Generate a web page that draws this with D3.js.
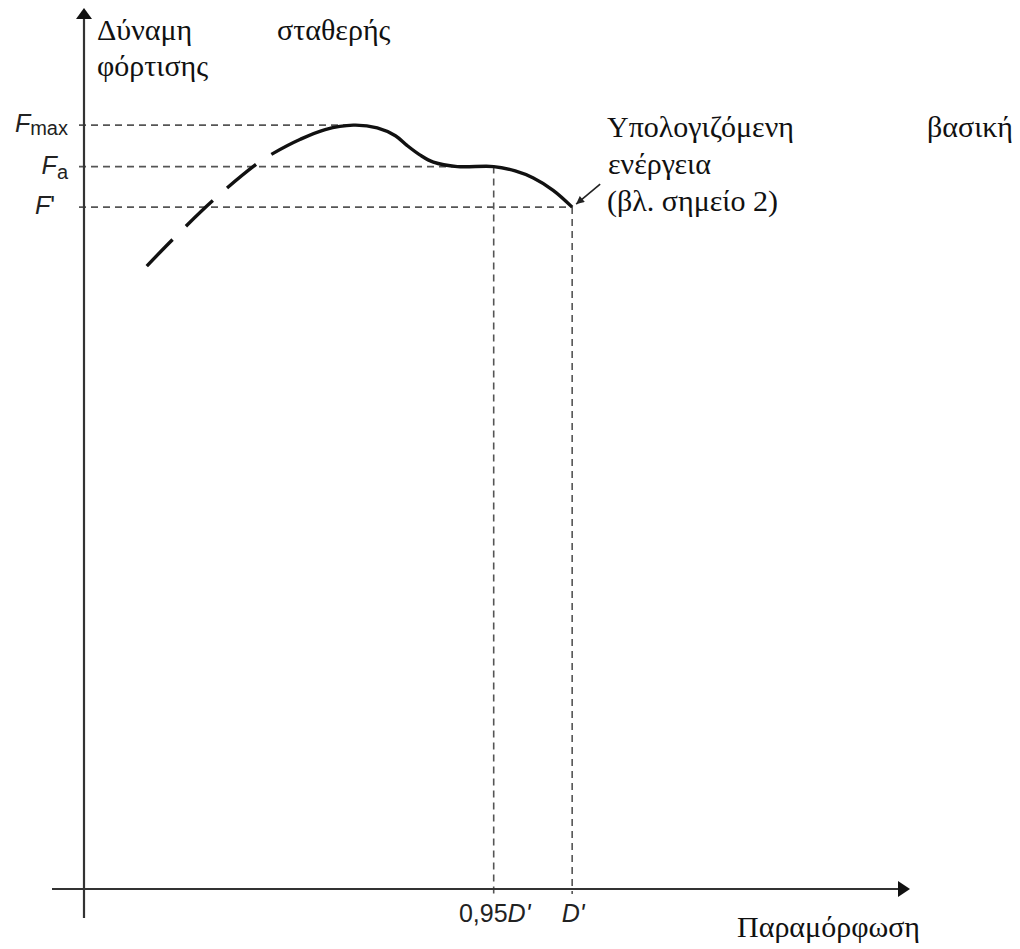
<!DOCTYPE html>
<html>
<head>
<meta charset="utf-8">
<script src="https://cdn.jsdelivr.net/npm/d3@7"></script>
<style>
  html, body { margin: 0; padding: 0; background: #fff; }
  #chart { width: 1020px; height: 949px; }
</style>
</head>
<body>
<div id="chart"></div>
<script>
// schematic units: both axes run 0..100
const curveX = [7.6, 10.7, 15.9, 21.2, 22.9, 26.2, 29.2, 32.6, 35.5, 37.7, 39.1, 40.7, 42.3, 45.2, 49.6, 52.2, 54.4, 56.8, 59.1];
const curveY = [70.7, 73.7, 78.4, 82.5, 83.5, 85.1, 86.2, 86.7, 86.4, 85.5, 84.4, 83.3, 82.5, 82.0, 82.0, 81.5, 80.7, 79.3, 77.4];

const yTickValues = [86.7, 82.0, 77.4];
const yTickNames = ["max", "a", "'"];        // text after the italic F
const xTickValues = [49.6, 59.1];
const xTickNumbers = ["0,95", ""];          // upright part before the italic D'

const titleLines = [["Δύναμη", "σταθερής"], ["φόρτισης"]];
const noteLines = [["Υπολογιζόμενη", "βασική"], ["ενέργεια"], ["(βλ. σημείο 2)"]];
const xTitle = "Παραμόρφωση";

function createChart() {
  const width = 1020, height = 949;
  const x = d3.scaleLinear().domain([0, 100]).range([84, 910]);
  const y = d3.scaleLinear().domain([0, 100]).range([889, 8]);

  const svg = d3.select("#chart").append("svg")
    .attr("width", width).attr("height", height)
    .attr("viewBox", [0, 0, width, height]);

  svg.append("rect").attr("width", width).attr("height", height).attr("fill", "#fff");

  const defs = svg.append("defs");
  defs.append("marker")
    .attr("id", "note-arrow")
    .attr("viewBox", "0 0 10 10").attr("refX", 10).attr("refY", 5)
    .attr("markerWidth", 11).attr("markerHeight", 8)
    .attr("markerUnits", "userSpaceOnUse")
    .attr("orient", "auto")
    .append("path").attr("d", "M0,0L10,5L0,10Z").attr("fill", "#222");

  // guide lines
  const guides = svg.append("g")
    .attr("stroke", "#555").attr("stroke-width", 1.6)
    .attr("stroke-dasharray", "7,5").attr("fill", "none");

  const guideEnds = [curveX[7], xTickValues[0], xTickValues[1]];
  guides.selectAll("line.h")
    .data(yTickValues)
    .join("line").attr("class", "h")
      .attr("x1", x(0) - 5).attr("x2", (d, i) => x(guideEnds[i]))
      .attr("y1", d => y(d)).attr("y2", d => y(d));

  guides.selectAll("line.v")
    .data(xTickValues)
    .join("line").attr("class", "v")
      .attr("x1", d => x(d)).attr("x2", d => x(d))
      .attr("y1", (d, i) => y(yTickValues[i + 1])).attr("y2", y(0) + 5);

  // axes
  const axes = svg.append("g").attr("stroke", "#333").attr("stroke-width", 2.2);
  axes.append("line")
    .attr("x1", x(0)).attr("x2", x(0))
    .attr("y1", y(0) + 29).attr("y2", y(100) + 8);
  axes.append("line")
    .attr("x1", x(0) - 32).attr("x2", x(100) - 10)
    .attr("y1", y(0)).attr("y2", y(0));

  svg.append("path")
    .attr("fill", "#111")
    .attr("d", `M${x(0)},${y(100)}L${x(0) + 8},${y(100) + 11}L${x(0) - 8},${y(100) + 11}Z`);
  svg.append("path")
    .attr("fill", "#111")
    .attr("d", `M${x(100)},${y(0)}L${x(100) - 12},${y(0) - 8}L${x(100) - 12},${y(0) + 8}Z`);

  // load curve, dashed at the start then solid
  const line = d3.line()
    .x(i => x(curveX[i]))
    .y(i => y(curveY[i]))
    .curve(d3.curveCatmullRom.alpha(0.5));

  svg.append("path")
    .datum(d3.range(curveX.length))
    .attr("d", line)
    .attr("fill", "none")
    .attr("stroke", "#111")
    .attr("stroke-width", 3.4)
    .attr("stroke-dasharray", "37,19,37,19,37,19,5000");

  // y labels: F with subscript
  const yLab = svg.append("g")
    .attr("font-family", "'Liberation Sans', Arial, sans-serif")
    .attr("fill", "#222")
    .attr("text-anchor", "end")
    .selectAll("text")
    .data(yTickValues)
    .join("text")
      .attr("x", (d, i) => yTickNames[i] === "'" ? x(0) - 29 : x(0) - 16)
      .attr("y", d => y(d) + 7);
  yLab.append("tspan")
    .attr("font-size", 25).attr("font-style", "italic")
    .text("F");
  yLab.append("tspan")
    .attr("font-size", (d, i) => yTickNames[i] === "'" ? 25 : 20)
    .attr("dy", (d, i) => yTickNames[i] === "'" ? 0 : (i === 0 ? 3 : 5))
    .text((d, i) => yTickNames[i]);

  // x labels
  const xLab = svg.append("g")
    .attr("font-family", "'Liberation Sans', Arial, sans-serif")
    .attr("font-size", 25)
    .attr("fill", "#222")
    .attr("text-anchor", "middle")
    .selectAll("text")
    .data(xTickValues)
    .join("text")
      .attr("x", d => x(d) + 1)
      .attr("y", y(0) + 33);
  xLab.append("tspan").text((d, i) => xTickNumbers[i]);
  xLab.append("tspan").attr("font-style", "italic").text("D'");

  // Greek captions
  const serif = svg.append("g")
    .attr("font-family", "'Liberation Serif', 'Times New Roman', serif")
    .attr("font-size", 30)
    .attr("fill", "#111");

  const titleX = [[97, 277], [97]];
  titleLines.forEach((words, r) => {
    words.forEach((w, c) => {
      serif.append("text").attr("x", titleX[r][c]).attr("y", 40 + r * 36).text(w);
    });
  });

  const noteX = [[607, 927], [608], [607]];
  noteLines.forEach((words, r) => {
    words.forEach((w, c) => {
      serif.append("text").attr("x", noteX[r][c]).attr("y", 137 + r * 37).text(w);
    });
  });

  serif.append("text").attr("x", 737).attr("y", 937).text(xTitle);

  // pointer from the note to the end of the curve
  const endX = x(curveX[curveX.length - 1]), endY = y(curveY[curveY.length - 1]);
  svg.append("line")
    .attr("x1", endX + 28).attr("y1", endY - 23)
    .attr("x2", endX + 4).attr("y2", endY - 3)
    .attr("stroke", "#222").attr("stroke-width", 1.6)
    .attr("marker-end", "url(#note-arrow)");
}

createChart();
</script>
</body>
</html>
